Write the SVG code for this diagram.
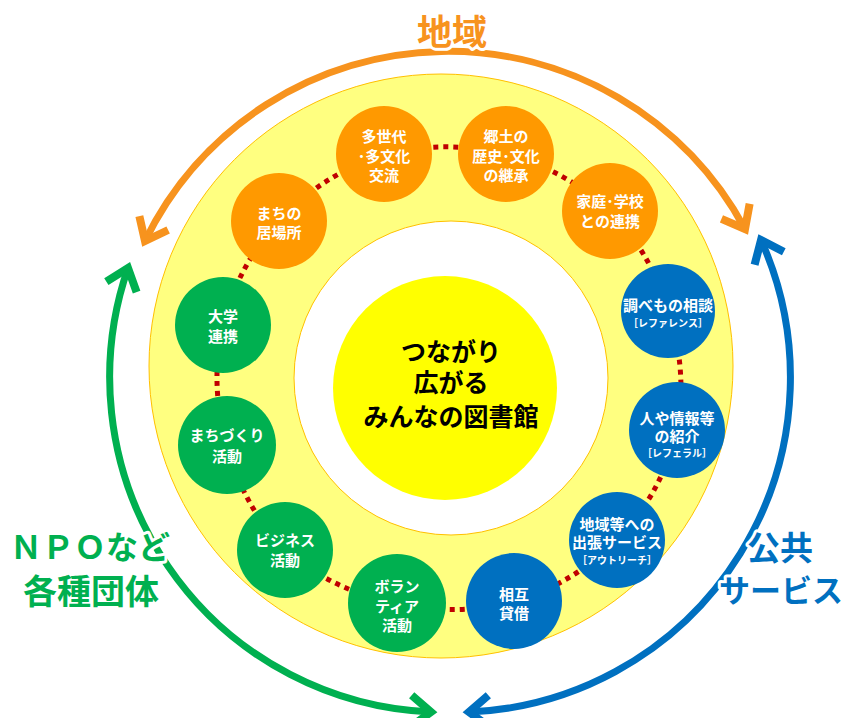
<svg xmlns="http://www.w3.org/2000/svg" width="845" height="718" viewBox="0 0 845 718">
<defs>
<style>
.lbl{font-family:"Noto Sans CJK JP","Noto Sans",sans-serif;font-weight:bold;text-anchor:middle;paint-order:stroke;stroke:#fff;stroke-width:6px;stroke-linejoin:round}
.nt{font-family:"Noto Sans CJK JP","Noto Sans",sans-serif;font-weight:bold;fill:#fff;font-size:15px;text-anchor:middle}
.ns{font-size:10px}
.or{fill:#FF9900}
.bl{fill:#0070C0}
.gr{fill:#00B050}
.arc{fill:none;stroke-width:7}
.con path{fill:none;stroke:#C00000;stroke-width:5;stroke-dasharray:5 5}
.ctr{font-family:"Noto Sans CJK JP","Noto Sans",sans-serif;font-weight:bold;fill:#000;font-size:25px;text-anchor:middle}
</style>
<marker id="mo" markerUnits="userSpaceOnUse" viewBox="-30 -20 40 40" markerWidth="40" markerHeight="40" refX="0" refY="0" orient="auto-start-reverse"><path d="M-20,-16 L0,0 L-20,16" fill="none" stroke="#F7931E" stroke-width="8"/></marker>
<marker id="mb" markerUnits="userSpaceOnUse" viewBox="-30 -20 40 40" markerWidth="40" markerHeight="40" refX="0" refY="0" orient="auto-start-reverse"><path d="M-20,-16 L0,0 L-20,16" fill="none" stroke="#0070C0" stroke-width="8"/></marker>
<marker id="mg" markerUnits="userSpaceOnUse" viewBox="-30 -20 40 40" markerWidth="40" markerHeight="40" refX="0" refY="0" orient="auto-start-reverse"><path d="M-20,-16 L0,0 L-20,16" fill="none" stroke="#00B050" stroke-width="8"/></marker>
</defs>
<rect width="845" height="718" fill="#fff"/>

<g id="rings">
<circle cx="441" cy="366" r="292" fill="#FFFF80" stroke="#FFC000" stroke-width="1"/>
<circle cx="451" cy="378" r="157" fill="#fff" stroke="#FFC000" stroke-width="1"/>
<circle id="center" cx="445" cy="388" r="112" fill="#FFFF00"/>
</g>

<g id="outer-arrows">
<path class="arc" stroke="#F7931E" d="M145,241 A337,337 0 0 1 745,229" marker-start="url(#mo)" marker-end="url(#mo)"/>
<path class="arc" stroke="#0070C0" d="M761,240 A335,335 0 0 1 469,712" marker-start="url(#mb)" marker-end="url(#mb)"/>
<path class="arc" stroke="#00B050" d="M431,712 A335,335 0 0 1 128,268" marker-start="url(#mg)" marker-end="url(#mg)"/>
</g>

<g id="labels">
<text class="lbl" x="452" y="45" font-size="35" fill="#F7931E">地域</text>
<text class="lbl" x="90" y="559" font-size="32" fill="#00B050">ＮＰＯなど</text>
<text class="lbl" x="91" y="604" font-size="34" fill="#00B050">各種団体</text>
<text class="lbl" x="780" y="560" font-size="33" fill="#0070C0">公共</text>
<text class="lbl" x="781" y="602" font-size="31" fill="#0070C0">サービス</text>
</g>

<g id="connectors" class="con">
<path d="M279,221 A232,232 0 0 1 384,155"/>
<path d="M384,155 A232,232 0 0 1 506,155"/>
<path d="M506,155 A232,232 0 0 1 610,211"/>
<path d="M610,211 A232,232 0 0 1 668,311"/>
<path d="M668,311 A232,232 0 0 1 677,430"/>
<path d="M677,430 A232,232 0 0 1 617,540"/>
<path d="M617,540 A232,232 0 0 1 514,601"/>
<path d="M514,601 A232,232 0 0 1 397,603"/>
<path d="M397,603 A232,232 0 0 1 285,550"/>
<path d="M285,550 A232,232 0 0 1 227,445"/>
<path d="M227,445 A232,232 0 0 1 223,325"/>
<path d="M223,325 A232,232 0 0 1 279,221"/>
</g>

<g id="center-text">
<text class="ctr" x="451" y="361">つながり</text>
<text class="ctr" x="451" y="392">広がる</text>
<text class="ctr" x="451" y="426">みんなの図書館</text>
</g>

<g id="n-ibasho"><circle class="or" cx="279" cy="221" r="48"/><text class="nt" x="279" y="219">まちの</text><text class="nt" x="279" y="238">居場所</text></g>
<g id="n-tasedai"><circle class="or" cx="384" cy="154" r="48"/><text class="nt" x="384" y="142">多世代</text><text class="nt" x="384" y="162">･多文化</text><text class="nt" x="384" y="181">交流</text></g>
<g id="n-kyodo"><circle class="or" cx="506" cy="154" r="48"/><text class="nt" x="506" y="142">郷土の</text><text class="nt" x="506" y="162">歴史･文化</text><text class="nt" x="506" y="181">の継承</text></g>
<g id="n-katei"><circle class="or" cx="610" cy="211" r="48"/><text class="nt" x="610" y="207">家庭･学校</text><text class="nt" x="610" y="227">との連携</text></g>
<g id="n-reference"><circle class="bl" cx="668" cy="311" r="47"/><text class="nt" x="668" y="311" font-size="14.5">調べもの相談</text><text class="nt ns" x="668" y="327">［レファレンス］</text></g>
<g id="n-referral"><circle class="bl" cx="677" cy="430" r="48"/><text class="nt" x="677" y="424">人や情報等</text><text class="nt" x="677" y="442">の紹介</text><text class="nt ns" x="677" y="457">［レフェラル］</text></g>
<g id="n-outreach"><circle class="bl" cx="617" cy="540" r="48"/><text class="nt" x="617" y="530" font-size="13.5">地域等への</text><text class="nt" x="617" y="548" font-size="13.5">出張サービス</text><text class="nt ns" x="617" y="564">［アウトリーチ］</text></g>
<g id="n-sogo"><circle class="bl" cx="514" cy="601" r="48"/><text class="nt" x="514" y="600">相互</text><text class="nt" x="514" y="619">貸借</text></g>
<g id="n-volunteer"><circle class="gr" cx="397" cy="603" r="49"/><text class="nt" x="397" y="592">ボラン</text><text class="nt" x="397" y="612">ティア</text><text class="nt" x="397" y="631">活動</text></g>
<g id="n-business"><circle class="gr" cx="285" cy="550" r="48"/><text class="nt" x="285" y="546">ビジネス</text><text class="nt" x="285" y="566">活動</text></g>
<g id="n-machizukuri"><circle class="gr" cx="227" cy="445" r="49"/><text class="nt" x="227" y="441">まちづくり</text><text class="nt" x="227" y="462">活動</text></g>
<g id="n-daigaku"><circle class="gr" cx="223" cy="325" r="48"/><text class="nt" x="223" y="322">大学</text><text class="nt" x="223" y="342">連携</text></g>
</svg>
